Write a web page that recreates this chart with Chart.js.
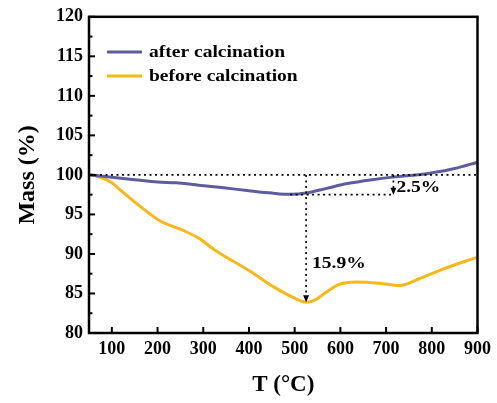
<!DOCTYPE html>
<html>
<head>
<meta charset="utf-8">
<script src="https://cdn.jsdelivr.net/npm/chart.js@4/dist/chart.umd.min.js"></script>
<style>
  body { margin: 0; background: #fff; }
  #wrap { width: 497px; height: 403px; position: relative; }
</style>
</head>
<body>
<div id="wrap"><canvas id="tga"></canvas></div>
<script>
// TGA curves
const tempAfter = [50, 100, 150, 200, 240, 290, 340, 400, 450, 490, 525, 570, 615, 670, 720, 760, 795, 850, 900];
const massAfter = [100, 99.7, 99.4, 99.1, 99.0, 98.7, 98.4, 98.0, 97.7, 97.55, 97.7, 98.3, 98.9, 99.4, 99.75, 99.95, 100.2, 100.8, 101.6];

const tempBefore = [50, 75, 100, 120, 160, 205, 255, 290, 325, 400, 455, 500, 525, 545, 565, 595, 635, 685, 730, 770, 830, 900];
const massBefore = [100, 99.7, 99.0, 98.0, 96.1, 94.2, 93.0, 92.0, 90.5, 87.9, 85.8, 84.4, 83.9, 84.2, 85.0, 86.1, 86.45, 86.3, 86.0, 86.8, 88.2, 89.6];

const xTicks = [100, 200, 300, 400, 500, 600, 700, 800, 900];
const yTicks = [80, 85, 90, 95, 100, 105, 110, 115, 120];

const blue = '#5d5d9d';
const gold = '#f6b915';

function pts(xs, ys) {
    return xs.map((x, i) => ({ x: x, y: ys[i] }));
}

// frame, inward ticks, legend and the dotted loss markers
const extras = {
    id: 'extras',
    afterDraw(chart) {
        const ctx = chart.ctx;
        const a = chart.chartArea;
        const xs = chart.scales.x, ys = chart.scales.y;
        ctx.save();

        // inward ticks
        ctx.strokeStyle = '#000';
        ctx.lineWidth = 2;
        xTicks.forEach(v => {
            const px = xs.getPixelForValue(v);
            ctx.beginPath(); ctx.moveTo(px, a.bottom); ctx.lineTo(px, a.bottom - 6); ctx.stroke();
        });
        for (let v = 80; v <= 120; v += 2.5) {
            const py = ys.getPixelForValue(v);
            const len = (v % 5 === 0) ? 6 : 3.5;
            ctx.beginPath(); ctx.moveTo(a.left, py); ctx.lineTo(a.left + len, py); ctx.stroke();
        }

        // frame
        ctx.lineWidth = 2.5;
        ctx.strokeRect(a.left, a.top, a.right - a.left, a.bottom - a.top);

        // dotted markers
        ctx.lineWidth = 1.6;
        ctx.setLineDash([2, 3.5]);
        const y100 = ys.getPixelForValue(100);
        ctx.beginPath(); ctx.moveTo(a.left, y100); ctx.lineTo(a.right, y100); ctx.stroke();
        const xv = xs.getPixelForValue(525);
        const xs2 = xs.getPixelForValue(716);
        const y975 = ys.getPixelForValue(97.5);
        ctx.beginPath(); ctx.moveTo(xs.getPixelForValue(490), y975); ctx.lineTo(xs2, y975); ctx.stroke();
        const yMin = ys.getPixelForValue(83.9);
        ctx.beginPath(); ctx.moveTo(xv, y100); ctx.lineTo(xv, yMin - 6); ctx.stroke();
        ctx.beginPath(); ctx.moveTo(xs2, y100); ctx.lineTo(xs2, y975 - 4); ctx.stroke();
        ctx.setLineDash([]);

        ctx.fillStyle = '#000';
        function arrow(x, y) {
            ctx.beginPath(); ctx.moveTo(x, y); ctx.lineTo(x - 3, y - 7); ctx.lineTo(x + 3, y - 7); ctx.closePath(); ctx.fill();
        }
        arrow(xv, yMin);
        arrow(xs2, y975);

        function stretchText(txt, x, y, size) {
            ctx.save();
            ctx.translate(x, y);
            ctx.scale(1.22, 1);
            ctx.font = 'bold ' + size + 'px "Liberation Serif"';
            ctx.textBaseline = 'middle';
            ctx.textAlign = 'left';
            ctx.fillText(txt, 0, 0);
            ctx.restore();
        }
        stretchText('2.5%', xs2 + 3, ys.getPixelForValue(98.4), 16);
        stretchText('15.9%', xv + 6, ys.getPixelForValue(88.8), 16);

        // legend
        const legend = [['after calcination', blue, 52], ['before calcination', gold, 76]];
        legend.forEach(([label, color, y]) => {
            ctx.strokeStyle = color;
            ctx.lineWidth = 3;
            ctx.beginPath(); ctx.moveTo(107, y); ctx.lineTo(142, y); ctx.stroke();
            ctx.fillStyle = '#000';
            stretchText(label, 149, y + 1, 16);
        });
        ctx.restore();
    }
};

new Chart(document.getElementById('tga'), {
    type: 'scatter',
    data: {
        datasets: [
            {
                label: 'after calcination',
                data: pts(tempAfter, massAfter),
                showLine: true,
                borderColor: blue,
                borderWidth: 3,
                pointRadius: 0,
                cubicInterpolationMode: 'monotone'
            },
            {
                label: 'before calcination',
                data: pts(tempBefore, massBefore),
                showLine: true,
                borderColor: gold,
                borderWidth: 3,
                pointRadius: 0,
                cubicInterpolationMode: 'monotone'
            }
        ]
    },
    options: {
        responsive: true,
        maintainAspectRatio: false,
        animation: false,
        layout: { padding: { top: 15, right: 15, left: 0, bottom: 0 } },
        plugins: { legend: { display: false }, tooltip: { enabled: false } },
        scales: {
            x: {
                type: 'linear',
                min: 50,
                max: 900,
                afterBuildTicks: s => { s.ticks = xTicks.map(v => ({ value: v })); },
                afterFit: s => { s.height = 70; },
                grid: { display: false, drawTicks: false },
                border: { display: false },
                ticks: {
                    color: '#000',
                    padding: 6,
                    font: { family: 'Liberation Serif', size: 18, weight: 'bold' }
                },
                title: {
                    display: true,
                    text: 'T (°C)',
                    color: '#000',
                    padding: { top: 6 },
                    font: { family: 'Liberation Serif', size: 23, weight: 'bold' }
                }
            },
            y: {
                min: 80,
                max: 120,
                afterBuildTicks: s => { s.ticks = yTicks.map(v => ({ value: v })); },
                afterFit: s => { s.width = 89; },
                grid: { display: false, drawTicks: false },
                border: { display: false },
                ticks: {
                    color: '#000',
                    padding: 6,
                    font: { family: 'Liberation Serif', size: 18, weight: 'bold' }
                },
                title: {
                    display: true,
                    text: 'Mass (%)',
                    color: '#000',
                    padding: { top: 13 },
                    font: { family: 'Liberation Serif', size: 24, weight: 'bold' }
                }
            }
        }
    },
    plugins: [extras]
});
</script>
</body>
</html>
